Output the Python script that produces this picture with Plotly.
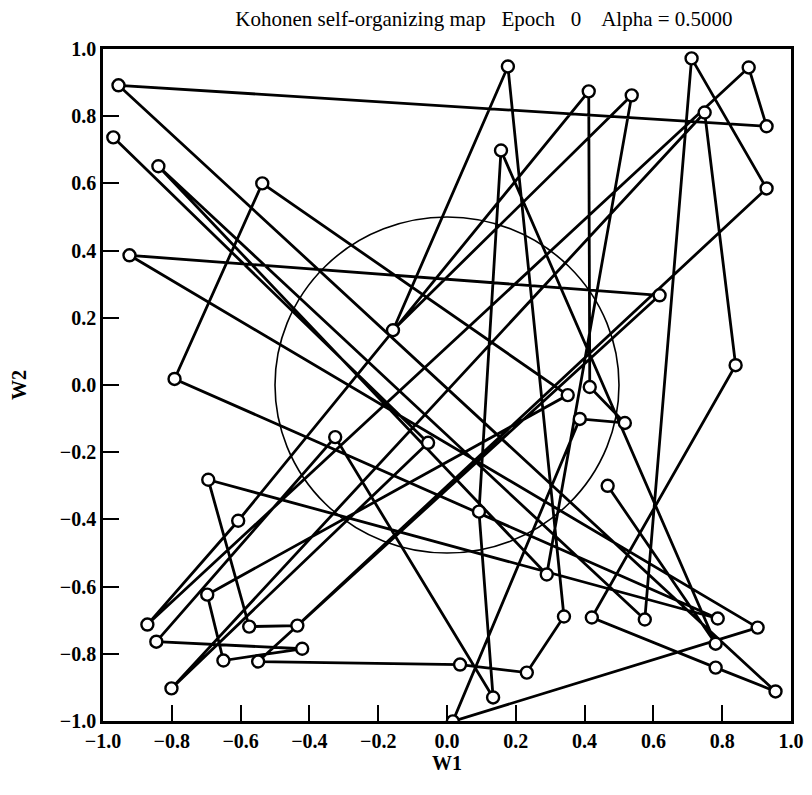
import plotly.graph_objects as go

# Neuron weight vectors in chain order (W1, W2)
w1 = [-0.970, -0.055, -0.801, 0.749, 0.839, 0.421, 0.781, 0.955, -0.955, 0.929,
      0.877, -0.871, -0.607, 0.412, 0.415, 0.517, 0.386, 0.017, 0.903, -0.923,
      0.618, -0.549, 0.038, 0.232, 0.340, 0.177, -0.157, 0.537, 0.290, -0.839,
      0.575, 0.711, 0.929, -0.435, -0.575, -0.694, 0.787, -0.792, -0.537, 0.351,
      -0.697, -0.650, -0.421, -0.845, -0.325, 0.134, 0.093, 0.157, 0.781, 0.467]
w2 = [0.737, -0.172, -0.903, 0.811, 0.059, -0.692, -0.841, -0.912, 0.892, 0.770,
      0.945, -0.713, -0.404, 0.874, -0.006, -0.113, -0.101, -1.001, -0.722, 0.386,
      0.267, -0.823, -0.832, -0.856, -0.689, 0.948, 0.163, 0.862, -0.564, 0.651,
      -0.698, 0.972, 0.585, -0.716, -0.719, -0.282, -0.695, 0.018, 0.600, -0.030,
      -0.624, -0.820, -0.785, -0.764, -0.155, -0.930, -0.377, 0.698, -0.770, -0.300]

circle_radius = 0.5
epoch = 0
alpha = 0.5
tick_vals = [-1.0, -0.8, -0.6, -0.4, -0.2, 0.0, 0.2, 0.4, 0.6, 0.8, 1.0]
tick_text = [f"{v:.1f}".replace("-", "\u2212") for v in tick_vals]

fig = go.Figure()
fig.add_shape(type="circle", xref="x", yref="y",
              x0=-circle_radius, y0=-circle_radius, x1=circle_radius, y1=circle_radius,
              line=dict(color="black", width=1.6), layer="below")
fig.add_trace(go.Scatter(
    x=w1, y=w2, mode="lines+markers",
    line=dict(color="black", width=2.8),
    marker=dict(symbol="circle", size=12, color="white",
                line=dict(color="black", width=2.4)),
    showlegend=False, hoverinfo="skip"))

serif = "Liberation Serif"
axis_common = dict(range=[-1.0, 1.0], tickvals=tick_vals, ticktext=tick_text,
                   ticks="inside", ticklen=16, tickwidth=2, tickcolor="black",
                   showline=True, linecolor="black", linewidth=2.5, mirror=True,
                   showgrid=False, zeroline=False,
                   tickfont=dict(family=serif, size=20, color="black", weight="bold"))

fig.update_layout(
    width=804, height=787,
    margin=dict(l=94.5, r=20.5, t=40.5, b=73.5, autoexpand=False),
    paper_bgcolor="white", plot_bgcolor="white",
    title=dict(text=(f"Kohonen self-organizing map   Epoch   {epoch}    "
                     f"Alpha = {alpha:.4f}"),
               x=0.592, xanchor="center", y=0.986, yanchor="middle",
               font=dict(family=serif, size=21, color="black")),
    xaxis=dict(**axis_common,
               title=dict(text="W1", standoff=4,
                          font=dict(family=serif, size=20, color="black", weight="bold"))),
    yaxis=dict(**axis_common,
               title=dict(text="W2", standoff=30,
                          font=dict(family=serif, size=20, color="black", weight="bold"))),
)

fig.write_html("out.html")
